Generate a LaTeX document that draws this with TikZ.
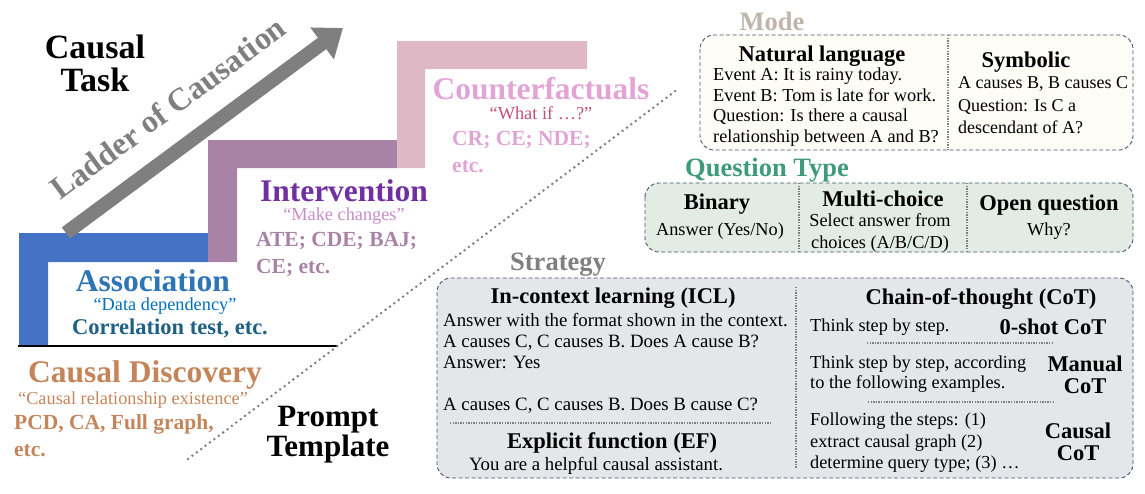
\documentclass[tikz,border=0pt]{standalone}
\usepackage{fontspec}
\setmainfont{Liberation Serif}
\usetikzlibrary{arrows.meta}

\definecolor{assocbar}{HTML}{4472C4}
\definecolor{assoctitle}{HTML}{2E75B6}
\definecolor{assocquote}{HTML}{0070C0}
\definecolor{assocex}{HTML}{1F6084}
\definecolor{intbar}{HTML}{A883A5}
\definecolor{inttitle}{HTML}{7030A0}
\definecolor{intquote}{HTML}{C78BCB}
\definecolor{cfbar}{HTML}{DFB8C5}
\definecolor{cftitle}{HTML}{E2A3D5}
\definecolor{cfquote}{HTML}{BE5179}
\definecolor{disc}{HTML}{C5855A}
\definecolor{modetitle}{HTML}{BFB5AC}
\definecolor{qttitle}{HTML}{3F9A7B}
\definecolor{strattitle}{HTML}{7F7F7F}
\definecolor{panelline}{HTML}{44546A}
\definecolor{modefill}{HTML}{FEFCF6}
\definecolor{qtfill}{HTML}{E3EBE5}
\definecolor{stratfill}{HTML}{E4E6EA}

\begin{document}
\begin{tikzpicture}[x=1pt,y=-1pt,
  body/.style={font=\fontsize{18.3}{20.5}\selectfont,inner sep=0pt,align=left},
  head/.style={font=\fontsize{22.5}{22}\selectfont\bfseries,inner sep=0pt,align=center},
  sect/.style={font=\fontsize{26.5}{28}\selectfont\bfseries,inner sep=0pt},
  lvl/.style={font=\fontsize{31.5}{32}\selectfont\bfseries,inner sep=0pt},
  quote/.style={font=\fontsize{18.3}{20}\selectfont,inner sep=0pt},
  ex/.style={font=\fontsize{21.5}{27}\selectfont\bfseries,inner sep=0pt,align=left},
  big/.style={font=\fontsize{34}{33}\selectfont\bfseries,inner sep=0pt,align=center},
  panel/.style={draw=panelline,line width=0.9pt,dash pattern=on 4pt off 2.5pt,rounded corners=14pt},
  sep/.style={draw=gray,line width=1.3pt,dash pattern=on 1.3pt off 1.3pt}]

  \useasboundingbox (0,0) rectangle (1145,493);

  % scara
  \fill[assocbar] (19,233) -- (208,233) -- (208,262) -- (48,262) -- (48,345) -- (19,345) -- cycle;
  \fill[intbar] (208,140) -- (397,140) -- (397,168) -- (237,168) -- (237,262) -- (208,262) -- cycle;
  \fill[cfbar] (397,41) -- (587,41) -- (587,69) -- (425,69) -- (425,168) -- (397,168) -- cycle;
  \coordinate (floorL) at (18,346);
  \coordinate (floorR) at (338,346);
  \draw[line width=2.5pt] (floorL) -- (floorR);

  % sageata
  \coordinate (tail) at (66,233);
  \coordinate (tip) at (343,28);
  \draw[line width=14pt,strattitle,-{Triangle[width=38pt,length=26pt]}] (tail) -- (tip);
  \node[font=\fontsize{32}{32}\selectfont\bfseries,strattitle,rotate=36.5] (ladder) at (168,108) {Ladder of Causation};

  \node[big] (causaltask) at (95,35) [anchor=north] {Causal\\Task};

  % nivelele
  \node[lvl,cftitle,anchor=base] (cf) at (541,99) {Counterfactuals};
  \node[quote,cfquote,anchor=base] (cfq) at (541,119.5) {“What if …?”};
  \node[ex,cftitle,anchor=north west] (cfex) at (452,131.4) {CR; CE; NDE;\\etc.};

  \node[lvl,inttitle,anchor=base] (int) at (344,201) {Intervention};
  \node[quote,intquote,anchor=base] (intq) at (344,220.5) {“Make changes”};
  \node[ex,intbar,anchor=north west] (intex) at (256,232.4) {ATE; CDE; BAJ;\\CE; etc.};

  \node[lvl,assoctitle,anchor=base] (assoc) at (153,291) {Association};
  \node[quote,assocquote,anchor=base] (assocq) at (165,310.5) {“Data dependency”};
  \node[ex,font=\fontsize{22.5}{27}\selectfont\bfseries,assocex,anchor=base] (assocex) at (170,334.5) {Correlation test, etc.};

  \node[lvl,disc,anchor=base] (cd) at (145,382) {Causal Discovery};
  \node[quote,disc,anchor=base] (cdq) at (133,404.5) {“Causal relationship existence”};
  \node[ex,disc,anchor=north west] (cdex) at (14,414.4) {PCD, CA, Full graph,\\etc.};

  \node[big,font=\fontsize{31}{30}\selectfont\bfseries,anchor=north] (prompt) at (328,406) {Prompt\\Template};

  % linia punctata
  \coordinate (dotA) at (188,459);
  \coordinate (dotB) at (678,89);
  \draw[strattitle,line width=2.8pt,line cap=round,dash pattern=on 0pt off 5.5pt] (dotA) -- (dotB);

  % Mode
  \node[sect,modetitle,anchor=base] (mode) at (772,30) {Mode};
  \draw[panel,fill=modefill] (700,35) rectangle (1133,150);
  \draw[sep] (948,35) -- (948,150);
  \node[head,anchor=base] (nl) at (822,61) {Natural language};
  \node[body,anchor=north west] (nltext) at (713,67.8)
    {Event A: It is rainy today.\\Event B: Tom is late for work.\\Question: Is there a causal\\relationship between A and B?};
  \node[head,anchor=base] (sym) at (1026,67) {Symbolic};
  \node[body,font=\fontsize{18}{22.5}\selectfont,anchor=north west] (symtext) at (958,76.8)
    {A causes B, B causes C\\Question: Is C a\\descendant of A?};

  % Question Type
  \node[sect,qttitle,anchor=base] (qt) at (767,176) {Question Type};
  \draw[panel,fill=qtfill] (645,183) rectangle (1133,252);
  \foreach \x in {799,967}
    \draw[sep] (\x,183) -- (\x,252);
  \node[head,anchor=base] (bin) at (717,209) {Binary};
  \node[quote,anchor=base] (bintext) at (720,235.5) {Answer (Yes/No)};
  \node[head,anchor=base] (mc) at (883,206) {Multi-choice};
  \node[body,font=\fontsize{18.3}{22}\selectfont,align=center,anchor=north] (mctext) at (880,213.8)
    {Select answer from\\choices (A/B/C/D)};
  \node[head,anchor=base] (open) at (1049,210) {Open question};
  \node[quote,anchor=base] (opentext) at (1049,235.5) {Why?};

  % Strategy
  \node[sect,strattitle,anchor=base] (strat) at (558,270.5) {Strategy};
  \draw[panel,fill=stratfill] (437,278) rectangle (1133,478);
  \draw[sep] (796,287) -- (796,468);
  \node[head,anchor=base] (icl) at (613,303) {In-context learning (ICL)};
  \node[body,font=\fontsize{18.8}{21}\selectfont,anchor=north west] (icltext) at (443,312.8)
    {Answer with the format shown in the context.\\A causes C, C causes B. Does A cause B?\\Answer: Yes\\[21pt]A causes C, C causes B. Does B cause C?};
  \draw[sep] (450,423) -- (772,423);
  \node[head,anchor=base] (ef) at (612,448) {Explicit function (EF)};
  \node[quote,font=\fontsize{18.8}{20}\selectfont,anchor=base] (eftext) at (596,470.5) {You are a helpful causal assistant.};

  \node[head,anchor=base] (cot) at (981,304) {Chain-of-thought (CoT)};
  \node[quote,anchor=base west] (zstext) at (810,331.5) {Think step by step.};
  \node[head,anchor=base] (zs) at (1053,334) {0-shot CoT};
  \draw[sep] (867,343) -- (1052,343);
  \node[body,font=\fontsize{18.3}{20}\selectfont,anchor=north west] (mantext) at (810,355.8)
    {Think step by step, according\\to the following examples.};
  \node[head,anchor=north] (man) at (1085,355.2) {Manual\\CoT};
  \draw[sep] (868,402) -- (1053,402);
  \node[body,font=\fontsize{18.3}{21.5}\selectfont,anchor=north west] (ccottext) at (810,412.8)
    {Following the steps: (1)\\extract causal graph (2)\\determine query type; (3) …};
  \node[head,anchor=north] (ccot) at (1078,422.2) {Causal\\CoT};
\end{tikzpicture}
\end{document}
